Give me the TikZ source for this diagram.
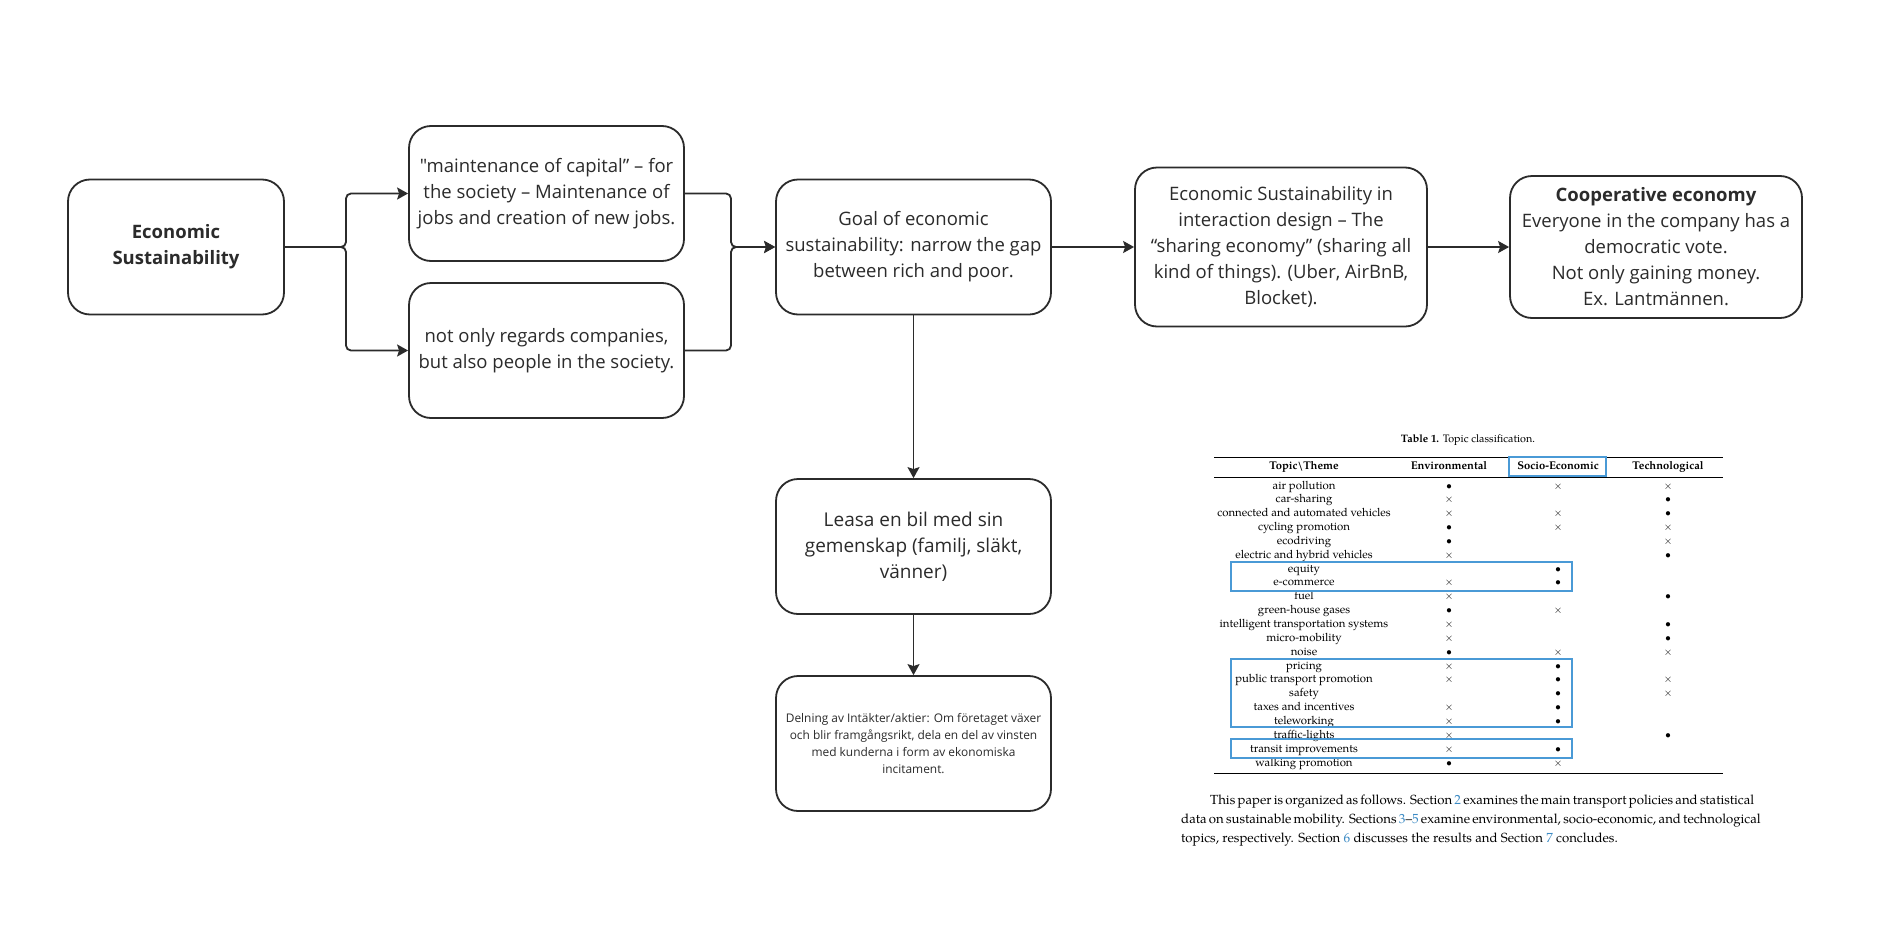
\documentclass[tikz,border=0pt]{standalone}
\usepackage{fontspec}
\setmainfont{Open Sans}[Ligatures=TeXOff]
\newfontfamily\pal{TeX Gyre Pagella}
\usetikzlibrary{arrows.meta}
\definecolor{ink}{HTML}{2B2B2B}
\definecolor{hl}{HTML}{4A9AD6}
\definecolor{lnk}{HTML}{3B8AC4}
\newcommand\tsym[1]{\if b#1$\bullet$\else\if x#1$\times$\fi\fi}
\begin{document}
\begin{tikzpicture}[x=1pt,y=-1pt,
  box/.style={draw=ink, line width=1.8pt, rounded corners=22pt, fill=white,
    align=center, text=ink, inner sep=0pt,
    font=\fontsize{18.5}{26}\selectfont},
  arr/.style={draw=ink, line width=1.8pt, rounded corners=5pt,
    -{Stealth[length=11pt,width=12pt,inset=2pt]}},
  tcell/.style={inner sep=0pt, text height=7.5pt, text depth=2.5pt,
    font=\pal\fontsize{11.4}{13}\selectfont},
  thead/.style={tcell, font=\pal\bfseries\fontsize{11.2}{13}\selectfont},
  hlbox/.style={draw=hl, line width=1.6pt},
  para/.style={inner sep=0pt, anchor=base west,
    font=\pal\fontsize{13.2}{18.5}\selectfont}
]
\useasboundingbox (0,0) rectangle (1886,926);
\fill[white] (0,0) rectangle (1886,926);

% diagram boxes
\node[box, minimum width=216, minimum height=135] (A) at (176,247)
  {\bfseries Economic\\ \bfseries Sustainability};
\node[box, minimum width=275, minimum height=135] (B) at (546.5,193.5)
  {"maintenance of capital” – for\\ the society – Maintenance of\\ jobs and creation of new jobs.};
\node[box, minimum width=275, minimum height=135] (C) at (546.5,350.5)
  {not only regards companies,\\ but also people in the society.};
\node[box, minimum width=275, minimum height=135] (D) at (913.5,247)
  {Goal of economic\\ sustainability: narrow the gap\\ between rich and poor.};
\node[box, minimum width=292, minimum height=159] (E) at (1281,247)
  {Economic Sustainability in\\ interaction design – The\\ “sharing economy” (sharing all\\ kind of things). (Uber, AirBnB,\\ Blocket).};
\node[box, minimum width=292, minimum height=142] (F) at (1656,247)
  {\bfseries Cooperative economy\\ Everyone in the company has a\\ democratic vote.\\ Not only gaining money.\\ Ex. Lantmännen.};
\node[box, minimum width=275, minimum height=135,
  font=\fontsize{19}{26}\selectfont] (G) at (913.5,546.5)
  {Leasa en bil med sin\\ gemenskap (familj, släkt,\\ vänner)};
\node[box, minimum width=275, minimum height=135,
  font=\fontsize{11.9}{17}\selectfont] (H) at (913.5,743.5)
  {Delning av Intäkter/aktier: Om företaget växer\\ och blir framgångsrikt, dela en del av vinsten\\ med kunderna i form av ekonomiska\\ incitament.};

% connectors
\coordinate (j1) at (346,247);
\coordinate (j2) at (731,247);
\draw[arr] (A.east) -- (j1) |- (B.west);
\draw[arr] (A.east) -- (j1) |- (C.west);
\draw[arr] (B.east) -| (j2) -- (D.west);
\draw[arr] (C.east) -| (j2) -- (D.west);
\draw[arr] (D.east) -- (E.west);
\draw[arr] (E.east) -- (F.west);
\draw[arr] (D.south) -- (G.north);
\draw[arr] (G.south) -- (H.north);

% table
\node[tcell, font=\pal\fontsize{10.8}{12}\selectfont] (ttl) at (1468,440)
  {\textbf{Table 1.} Topic classification.};
\draw[line width=0.9pt] (1214,457) -- (1723,457);
\draw[line width=0.6pt] (1214,477) -- (1723,477);
\draw[line width=0.9pt] (1214,773) -- (1723,773);
\node[thead] (h1) at (1304,466.5) {Topic\textbackslash Theme};
\node[thead] (h2) at (1449,466.5) {Environmental};
\node[thead] (h3) at (1558,466.5) {Socio-Economic};
\node[thead] (h4) at (1668,466.5) {Technological};
\foreach \t/\e/\s/\c [count=\i from 0] in {
  air pollution/b/x/x, car-sharing/x/n/b,
  connected and automated vehicles/x/x/b, cycling promotion/b/x/x,
  ecodriving/b/n/x, electric and hybrid vehicles/x/n/b,
  equity/n/b/n, e-commerce/x/b/n, fuel/x/n/b, green-house gases/b/x/n,
  intelligent transportation systems/x/n/b, micro-mobility/x/n/b,
  noise/b/x/x, pricing/x/b/n, public transport promotion/x/b/x,
  safety/n/b/x, taxes and incentives/x/b/n, teleworking/x/b/n,
  traffic-lights/x/n/b, transit improvements/x/b/n, walking promotion/b/x/n}
{
  \node[tcell] (t\i) at (1304,{486.5+13.85*\i}) {\t};
  \node[tcell] (e\i) at (1449,{486.5+13.85*\i}) {\tsym{\e}};
  \node[tcell] (s\i) at (1558,{486.5+13.85*\i}) {\tsym{\s}};
  \node[tcell] (c\i) at (1668,{486.5+13.85*\i}) {\tsym{\c}};
}
\draw[hlbox] (1509,457) rectangle (1606,476);
\draw[hlbox] (1231,562) rectangle (1572,591);
\draw[hlbox] (1231,659) rectangle (1572,727);
\draw[hlbox] (1231,739) rectangle (1572,758);

% paragraph
\node[para] (p1) at (1210,804) {\makebox[513pt][s]{This paper is organized as follows. Section {\color{lnk}2} examines the main transport policies and statistical}};
\node[para] (p2) at (1181,823) {\makebox[542pt][s]{data on sustainable mobility. Sections {\color{lnk}3}–{\color{lnk}5} examine environmental, socio-economic, and technological}};
\node[para] (p3) at (1181,842) {topics, respectively. Section {\color{lnk}6} discusses the results and Section {\color{lnk}7} concludes.};
\end{tikzpicture}
\end{document}
